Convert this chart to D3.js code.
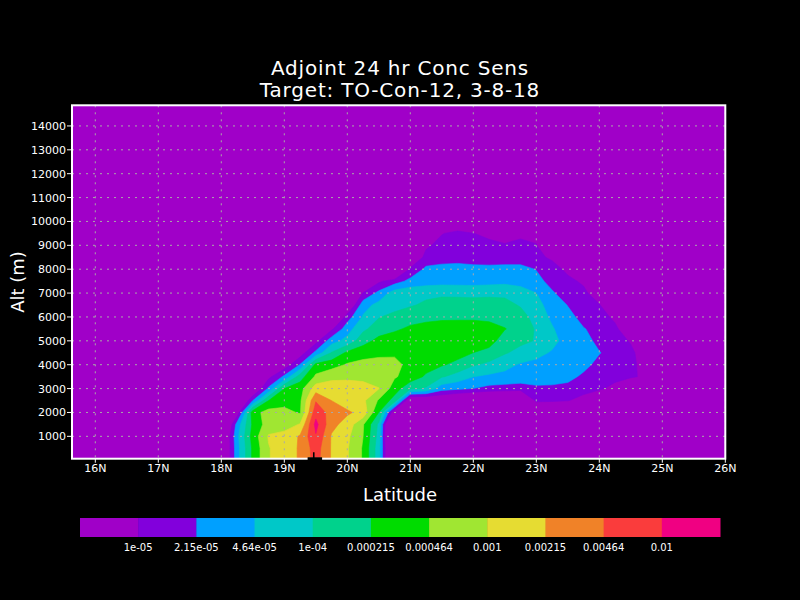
<!DOCTYPE html>
<html><head><meta charset="utf-8">
<script src="https://cdn.jsdelivr.net/npm/d3@7"></script>
<style>html,body{margin:0;padding:0;background:#000;} svg{display:block;}</style>
</head><body>
<svg id="chart" width="800" height="600"></svg>
<script>
// ---- data ----
const titleLines = ["Adjoint 24 hr Conc Sens", "Target: TO-Con-12, 3-8-18"];
const xTitle = "Latitude";
const yTitle = "Alt (m)";
const latTicks = [16, 17, 18, 19, 20, 21, 22, 23, 24, 25, 26];
const altTicks = [1000, 2000, 3000, 4000, 5000, 6000, 7000, 8000, 9000, 10000, 11000, 12000, 13000, 14000];
const latRange = [15.63, 26];
const altRange = [63, 14865];
const levelValues = [1e-5, 2.15e-5, 4.64e-5, 1e-4, 2.15e-4, 4.64e-4, 1e-3, 2.15e-3, 4.64e-3, 1e-2];
const levelLabels = ["1e-05", "2.15e-05", "4.64e-05", "1e-04", "0.000215", "0.000464", "0.001", "0.00215", "0.00464", "0.01"];
const bandColors = ["rgb(160,0,200)", "rgb(130,0,220)", "rgb(0,160,255)", "rgb(0,200,200)", "rgb(0,210,140)",
  "rgb(0,220,0)", "rgb(160,230,50)", "rgb(230,220,50)", "rgb(240,130,40)", "rgb(250,60,60)", "rgb(240,0,130)"];
// grid columns (deg N) and rows (m)
const latitudes = [17.75, 18.0, 18.25, 18.5, 18.75, 19.0, 19.25, 19.5, 19.75, 20.0, 20.25, 20.5, 20.75, 21.0, 21.25,
  21.5, 21.75, 22.0, 22.25, 22.5, 22.75, 23.0, 23.25, 23.5, 23.75, 24.0, 24.25, 24.5, 24.75, 25.0, 25.25];
const altitudes = [0, 500, 1000, 1500, 2000, 2500, 3000, 3500, 4000, 4500, 5000, 5500, 6000, 6500, 7000, 7500, 8000, 8500, 9000, 9500, 10000];
// log10 of the concentration sensitivity, one row per altitude
const sensLog10 = [
  [-6.3,-5.67,-4.47,-3.60,-3.02,-2.83,-2.63,-2.20,-2.70,-2.97,-3.37,-4.20,-6.2,-6.3,-6.3,-6.3,-6.3,-6.3,-6.3,-6.3,-6.3,-6.3,-6.3,-6.3,-6.3,-6.3,-6.3,-6.3,-6.3,-6.3,-6.3],
  [-6.3,-5.67,-4.47,-3.60,-3.02,-2.83,-2.63,-2.17,-2.70,-2.97,-3.37,-4.20,-6.2,-6.3,-6.3,-6.3,-6.3,-6.3,-6.3,-6.3,-6.3,-6.3,-6.3,-6.3,-6.3,-6.3,-6.3,-6.3,-6.3,-6.3,-6.3],
  [-6.3,-5.67,-4.43,-3.53,-2.97,-2.90,-2.63,-2.03,-2.70,-2.93,-3.33,-4.13,-6.5,-6.3,-6.3,-6.3,-6.3,-6.3,-6.3,-6.3,-6.3,-6.3,-6.3,-6.3,-6.3,-6.3,-6.3,-6.3,-6.3,-6.3,-6.3],
  [-6.3,-6.0,-4.53,-3.60,-3.17,-3.13,-2.98,-1.90,-2.57,-2.80,-3.30,-4.07,-6.5,-6.3,-6.3,-6.3,-6.3,-6.3,-6.3,-6.3,-6.3,-6.3,-6.3,-6.3,-6.3,-6.3,-6.3,-6.3,-6.3,-6.3,-6.3],
  [-6.3,-6.3,-5.23,-3.47,-3.20,-3.23,-3.37,-2.12,-2.47,-2.62,-2.77,-3.67,-5.33,-6.3,-6.3,-6.3,-6.3,-6.3,-6.3,-6.3,-6.3,-5.83,-5.83,-5.83,-6.3,-6.3,-6.3,-6.3,-6.3,-6.3,-6.3],
  [-6.3,-6.3,-5.83,-4.67,-3.67,-3.47,-3.40,-2.36,-2.67,-2.83,-2.93,-3.37,-3.81,-5.50,-5.50,-5.43,-5.60,-5.73,-5.83,-5.87,-5.93,-4.90,-4.93,-4.98,-5.17,-5.50,-6.3,-6.3,-6.3,-6.3,-6.3],
  [-6.3,-6.3,-6.3,-5.50,-4.60,-3.67,-3.47,-2.83,-2.80,-2.83,-2.90,-2.99,-3.50,-3.93,-4.04,-4.53,-4.60,-4.67,-4.77,-4.80,-4.83,-4.73,-4.73,-4.77,-4.83,-4.93,-5.14,-5.67,-6.3,-6.3,-6.3],
  [-6.3,-6.3,-6.3,-6.3,-5.10,-4.60,-3.83,-3.27,-3.10,-3.07,-3.07,-3.13,-3.30,-3.47,-3.72,-3.97,-4.13,-4.33,-4.40,-4.43,-4.47,-4.50,-4.53,-4.57,-4.73,-4.80,-4.87,-4.93,-5.10,-5.67,-6.3],
  [-6.3,-6.3,-6.3,-6.3,-6.3,-5.23,-4.65,-3.57,-3.47,-3.30,-3.23,-3.23,-3.27,-3.40,-3.53,-3.63,-3.77,-3.97,-4.07,-4.23,-4.37,-4.43,-4.47,-4.50,-4.57,-4.77,-4.83,-4.90,-5.17,-5.67,-6.3],
  [-6.3,-6.3,-6.3,-6.3,-6.3,-6.0,-5.20,-4.57,-3.98,-3.60,-3.47,-3.40,-3.37,-3.37,-3.40,-3.47,-3.53,-3.67,-3.80,-3.97,-4.10,-4.23,-4.37,-4.43,-4.50,-4.65,-4.80,-4.93,-5.20,-5.67,-6.3],
  [-6.3,-6.3,-6.3,-6.3,-6.3,-6.3,-6.3,-5.13,-4.47,-4.23,-3.80,-3.57,-3.47,-3.40,-3.37,-3.37,-3.37,-3.40,-3.50,-3.87,-3.93,-4.02,-4.23,-4.47,-4.53,-4.77,-4.87,-5.03,-5.67,-6.3,-6.3],
  [-6.3,-6.3,-6.3,-6.3,-6.3,-6.3,-6.3,-6.3,-5.07,-4.47,-4.07,-3.83,-3.73,-3.60,-3.50,-3.43,-3.40,-3.40,-3.47,-3.65,-3.83,-4.03,-4.30,-4.53,-4.65,-4.77,-4.93,-5.27,-5.83,-6.3,-6.3],
  [-6.3,-6.3,-6.3,-6.3,-6.3,-6.3,-6.3,-6.3,-5.83,-4.83,-4.30,-4.02,-3.90,-3.83,-3.80,-3.77,-3.77,-3.77,-3.80,-3.83,-3.87,-4.13,-4.40,-4.57,-4.77,-4.87,-5.07,-5.83,-6.3,-6.3,-6.3],
  [-6.3,-6.3,-6.3,-6.3,-6.3,-6.3,-6.3,-6.3,-6.3,-5.50,-4.47,-4.23,-4.13,-4.03,-3.95,-3.90,-3.87,-3.85,-3.85,-3.90,-4.03,-4.23,-4.47,-4.68,-4.83,-4.97,-5.50,-6.3,-6.3,-6.3,-6.3],
  [-6.3,-6.3,-6.3,-6.3,-6.3,-6.3,-6.3,-6.3,-6.3,-6.0,-4.98,-4.57,-4.17,-4.10,-4.07,-4.05,-4.07,-4.10,-4.08,-4.07,-4.17,-4.33,-4.63,-4.83,-4.90,-5.27,-6.0,-6.3,-6.3,-6.3,-6.3],
  [-6.3,-6.3,-6.3,-6.3,-6.3,-6.3,-6.3,-6.3,-6.3,-6.3,-5.83,-5.07,-4.83,-4.57,-4.50,-4.47,-4.47,-4.47,-4.45,-4.43,-4.47,-4.57,-4.77,-4.90,-5.07,-6.0,-6.3,-6.3,-6.3,-6.3,-6.3],
  [-6.3,-6.3,-6.3,-6.3,-6.3,-6.3,-6.3,-6.3,-6.3,-6.3,-6.3,-6.3,-6.0,-4.93,-4.60,-4.57,-4.57,-4.60,-4.60,-4.57,-4.57,-4.68,-4.83,-5.10,-6.0,-6.3,-6.3,-6.3,-6.3,-6.3,-6.3],
  [-6.3,-6.3,-6.3,-6.3,-6.3,-6.3,-6.3,-6.3,-6.3,-6.3,-6.3,-6.3,-6.3,-5.50,-4.87,-4.80,-4.77,-4.78,-4.80,-4.83,-4.83,-4.90,-5.07,-6.0,-6.3,-6.3,-6.3,-6.3,-6.3,-6.3,-6.3],
  [-6.3,-6.3,-6.3,-6.3,-6.3,-6.3,-6.3,-6.3,-6.3,-6.3,-6.3,-6.3,-6.3,-6.0,-5.07,-4.87,-4.83,-4.87,-4.90,-4.97,-4.93,-4.98,-5.67,-6.3,-6.3,-6.3,-6.3,-6.3,-6.3,-6.3,-6.3],
  [-6.3,-6.3,-6.3,-6.3,-6.3,-6.3,-6.3,-6.3,-6.3,-6.3,-6.3,-6.3,-6.3,-6.3,-5.50,-5.02,-4.90,-4.99,-5.10,-5.17,-5.06,-5.13,-5.67,-6.3,-6.3,-6.3,-6.3,-6.3,-6.3,-6.3,-6.3],
  [-6.3,-6.3,-6.3,-6.3,-6.3,-6.3,-6.3,-6.3,-6.3,-6.3,-6.3,-6.3,-6.3,-6.3,-6.3,-5.67,-5.40,-5.67,-6.3,-6.3,-6.3,-6.3,-6.3,-6.3,-6.3,-6.3,-6.3,-6.3,-6.3,-6.3,-6.3]
];
// black terrain spike at the source location (lat, alt)
const terrainLat = [19.37, 19.37, 19.455, 19.455, 19.48, 19.48, 19.6, 19.6];
const terrainAlt = [0, 120, 120, 330, 330, 120, 120, 0];

// ---- drawing ----
const svg = d3.select("#chart");
const FONT = "DejaVu Sans, Liberation Sans, sans-serif";
svg.append("rect").attr("width", 800).attr("height", 600).attr("fill", "#000");

const x = d3.scaleLinear().domain(latRange).range([72, 725.3]);
const y = d3.scaleLinear().domain(altRange).range([458.7, 105.3]);
const x0 = x(latRange[0]), x1 = x(latRange[1]), yTop = y(altRange[1]), yBot = y(altRange[0]);

svg.append("clipPath").attr("id", "plotclip").append("rect")
  .attr("x", x0).attr("y", yTop).attr("width", x1 - x0).attr("height", yBot - yTop);
const plot = svg.append("g").attr("clip-path", "url(#plotclip)");

plot.append("rect").attr("x", x0).attr("y", yTop).attr("width", x1 - x0).attr("height", yBot - yTop)
  .attr("fill", bandColors[0]);

const nx = latitudes.length, ny = altitudes.length;
const values = [];
for (let j = 0; j < ny; j++) for (let i = 0; i < nx; i++) values.push(sensLog10[j][i]);
const thresholds = levelValues.map(v => Math.log10(v));
const bands = d3.contours().size([nx, ny]).thresholds(thresholds).smooth(true)(values);
const dLat = latitudes[1] - latitudes[0], dAlt = altitudes[1] - altitudes[0];
const proj = d3.geoTransform({
  point(px, py) {
    this.stream.point(x(latitudes[0] + (px - 0.5) * dLat), y(altitudes[0] + (py - 0.5) * dAlt));
  }
});
const path = d3.geoPath(proj);
plot.selectAll("path.band").data(bands).join("path")
  .attr("class", "band")
  .attr("d", path)
  .attr("fill", (d, i) => bandColors[i + 1])
  .attr("stroke", (d, i) => bandColors[i + 1])
  .attr("stroke-width", 0.6);

// grid lines
const gridColor = "#a9a9a9";
plot.selectAll("line.vg").data(latTicks).join("line")
  .attr("x1", d => x(d)).attr("x2", d => x(d)).attr("y1", yTop).attr("y2", yBot)
  .attr("stroke", gridColor).attr("stroke-width", 1).attr("stroke-dasharray", "2,5");
plot.selectAll("line.hg").data(altTicks).join("line")
  .attr("y1", d => y(d)).attr("y2", d => y(d)).attr("x1", x0).attr("x2", x1)
  .attr("stroke", gridColor).attr("stroke-width", 1).attr("stroke-dasharray", "2,5");

// frame
svg.append("rect").attr("x", x0).attr("y", yTop).attr("width", x1 - x0).attr("height", yBot - yTop)
  .attr("fill", "none").attr("stroke", "#fff").attr("stroke-width", 2);

// terrain
svg.append("path")
  .datum(terrainLat.map((la, i) => [x(la), y(terrainAlt[i])]))
  .attr("d", d3.line())
  .attr("fill", "#000");

// y axis
svg.selectAll("line.yt").data(altTicks).join("line")
  .attr("x1", x0 - 5).attr("x2", x0).attr("y1", d => y(d)).attr("y2", d => y(d))
  .attr("stroke", "#fff").attr("stroke-width", 1);
svg.selectAll("text.yl").data(altTicks).join("text")
  .attr("x", x0 - 6).attr("y", d => y(d)).attr("dy", "0.36em")
  .attr("text-anchor", "end").attr("fill", "#fff")
  .attr("font-family", FONT).attr("font-size", 11).text(d => d);
// x axis
svg.selectAll("line.xt").data(latTicks).join("line")
  .attr("x1", d => x(d)).attr("x2", d => x(d)).attr("y1", yBot).attr("y2", yBot + 4)
  .attr("stroke", "#fff").attr("stroke-width", 1);
svg.selectAll("text.xl").data(latTicks).join("text")
  .attr("x", d => x(d)).attr("y", yBot + 13)
  .attr("text-anchor", "middle").attr("fill", "#fff")
  .attr("font-family", FONT).attr("font-size", 11).text(d => d + "N");

// titles
svg.selectAll("text.title").data(titleLines).join("text")
  .attr("x", 400).attr("y", (d, i) => 75 + i * 22)
  .attr("text-anchor", "middle").attr("fill", "#fff")
  .attr("font-family", FONT).attr("font-size", 20).attr("letter-spacing", 0.8).text(d => d);
svg.append("text").attr("x", 400).attr("y", 501).attr("text-anchor", "middle").attr("fill", "#fff")
  .attr("font-family", FONT).attr("font-size", 18).text(xTitle);
svg.append("text").attr("transform", "translate(24,282) rotate(-90)").attr("text-anchor", "middle")
  .attr("fill", "#fff").attr("font-family", FONT).attr("font-size", 18).text(yTitle);

// colour bar
const cb = d3.scaleBand().domain(d3.range(bandColors.length)).range([80, 720]).padding(0);
svg.selectAll("rect.cb").data(bandColors).join("rect")
  .attr("x", (d, i) => cb(i)).attr("y", 518).attr("width", cb.bandwidth() + 0.5).attr("height", 19)
  .attr("fill", d => d);
svg.selectAll("text.cbl").data(levelLabels).join("text")
  .attr("x", (d, i) => cb(i + 1)).attr("y", 551)
  .attr("text-anchor", "middle").attr("fill", "#fff")
  .attr("font-family", FONT).attr("font-size", 10).text(d => d);
</script>
</body></html>
